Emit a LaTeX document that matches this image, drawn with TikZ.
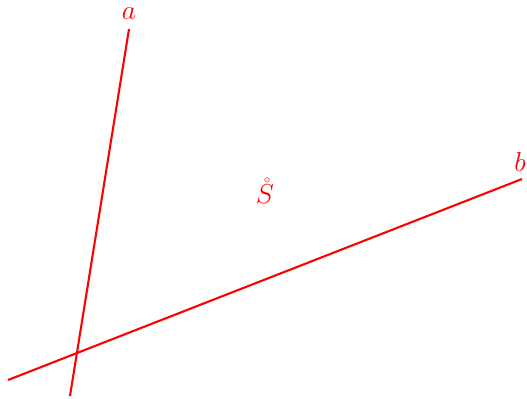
\documentclass[tikz,border=0pt]{standalone}
\begin{document}
\begin{tikzpicture}[x=0.526pt,y=-0.526pt,
  ln/.style={red,line width=1.1pt},
  lbl/.style={red,inner sep=0pt,font=\fontsize{14}{16}\selectfont}]
\useasboundingbox (0,0) rectangle (527,398);
\coordinate (a1) at (70,396);
\coordinate (a2) at (129,29);
\coordinate (b1) at (8,380);
\coordinate (b2) at (522,179);
\draw[ln] (a1) -- (a2);
\draw[ln] (b1) -- (b2);
\node[lbl] (la) at (129,14) {$a$};
\node[lbl] (lb) at (520,162) {$b$};
\node[lbl] (s) at (265,191) {$\mathring{S}$};
\end{tikzpicture}
\end{document}
